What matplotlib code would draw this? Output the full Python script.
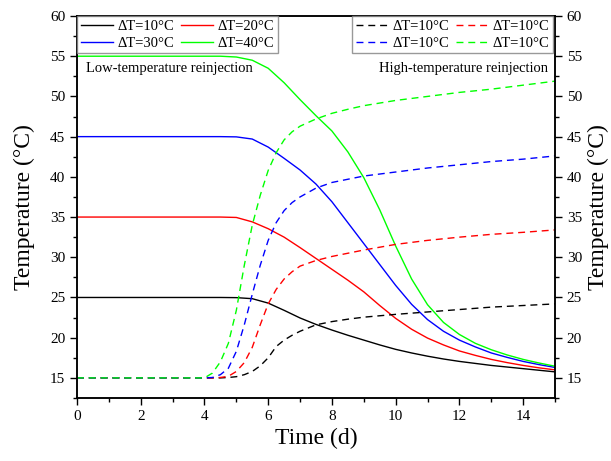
import matplotlib
matplotlib.use("Agg")
import matplotlib.pyplot as plt
from matplotlib.ticker import MultipleLocator

plt.rcParams['font.family'] = ['Liberation Serif', 'DejaVu Serif']

# ---- data ----
t_low = [0, 1, 2, 3, 4, 4.5, 5, 5.5, 6, 6.5, 7, 7.5, 8, 8.5, 9, 9.5, 10, 10.5,
         11, 11.5, 12, 12.5, 13, 13.5, 14, 14.5, 15]
low_10 = [25, 25, 25, 25, 25, 25.0, 24.98, 24.85, 24.3, 23.4, 22.45, 21.65, 20.95,
          20.3, 19.7, 19.1, 18.55, 18.1, 17.7, 17.35, 17.05, 16.8, 16.55, 16.35,
          16.15, 15.95, 15.75]
low_20 = [35, 35, 35, 35, 35, 35.0, 34.95, 34.4, 33.55, 32.5, 31.2, 29.85, 28.5,
          27.15, 25.7, 24.0, 22.4, 21.05, 19.95, 19.1, 18.35, 17.8, 17.3, 16.9,
          16.55, 16.25, 16.0]
low_30 = [45, 45, 45, 45, 45, 45.0, 44.97, 44.7, 43.7, 42.3, 40.85, 39.1, 36.9,
          34.3, 31.7, 29.1, 26.5, 24.15, 22.25, 20.8, 19.7, 18.85, 18.1, 17.55,
          17.05, 16.65, 16.3]
low_40 = [55, 55, 55, 55, 55, 55.0, 54.9, 54.5, 53.5, 51.7, 49.6, 47.6, 45.7,
          43.1, 39.9, 35.9, 31.4, 27.3, 24.1, 21.9, 20.4, 19.3, 18.5, 17.85,
          17.3, 16.85, 16.45]

t_high = [0, 1, 2, 3, 4, 4.25, 4.5, 4.75, 5, 5.25, 5.5, 5.75, 6, 6.25, 6.5, 6.75,
          7, 7.5, 8, 8.5, 9, 10, 11, 12, 13, 14, 15]
high_10 = [15, 15, 15, 15, 15, 15.0, 15.0, 15.05, 15.15, 15.4, 15.8, 16.5, 17.5,
           18.9, 19.7, 20.3, 20.8, 21.6, 22.0, 22.3, 22.55, 22.9, 23.2, 23.5,
           23.8, 24.0, 24.2]
high_20 = [15, 15, 15, 15, 15, 15.0, 15.05, 15.2, 15.8, 16.9, 18.8, 21.6, 24.2,
           26.0, 27.3, 28.2, 28.9, 29.6, 30.1, 30.5, 30.9, 31.6, 32.1, 32.5,
           32.85, 33.1, 33.4]
high_30 = [15, 15, 15, 15, 15, 15.05, 15.4, 16.2, 18.3, 21.6, 25.4, 29.0, 32.1,
           34.3, 35.8, 36.8, 37.5, 38.6, 39.3, 39.7, 40.1, 40.6, 41.1, 41.5,
           41.9, 42.2, 42.6]
high_40 = [15, 15, 15, 15, 15, 15.6, 17.0, 19.3, 23.4, 29.0, 34.0, 37.7, 40.8,
           43.0, 44.6, 45.6, 46.3, 47.2, 47.9, 48.4, 48.85, 49.5, 50.0, 50.5,
           50.9, 51.4, 51.9]

low_labels = ['ΔT=10°C', 'ΔT=20°C', 'ΔT=30°C', 'ΔT=40°C']
high_labels = ['ΔT=10°C', 'ΔT=10°C', 'ΔT=10°C', 'ΔT=10°C']
colors = ['#000000', '#ff0000', '#0000ff', '#00ff00']

fig = plt.figure(figsize=(6.11, 4.61), dpi=100)
ax = fig.add_axes([77/611, (461-398)/461, 478/611, 382/461])

low_series = [low_10, low_20, low_30, low_40]
high_series = [high_10, high_20, high_30, high_40]

lh = []
for y, c, lab in zip(low_series, colors, low_labels):
    l, = ax.plot(t_low, y, color=c, lw=1.0, label=lab)
    lh.append(l)
hh = []
for y, c, lab in zip(high_series, colors, high_labels):
    l, = ax.plot(t_high, y, color=c, lw=1.0, ls=(0, (5, 3.5)), label=lab)
    hh.append(l)

ax.set_xlim(0, 15)
ax.set_ylim(12.5, 60)
ax.xaxis.set_major_locator(MultipleLocator(2))
ax.xaxis.set_minor_locator(MultipleLocator(1))
ax.yaxis.set_major_locator(MultipleLocator(5))
ax.yaxis.set_minor_locator(MultipleLocator(2.5))
ax.tick_params(which='both', direction='out', top=False, right=False,
               labelsize=11, width=1.0)
ax.tick_params(which='major', length=5)
ax.tick_params(which='minor', length=3)
for s in ax.spines.values():
    s.set_linewidth(1.1)

ax2 = ax.twinx()
ax2.set_ylim(12.5, 60)
ax2.yaxis.set_major_locator(MultipleLocator(5))
ax2.yaxis.set_minor_locator(MultipleLocator(2.5))
ax2.tick_params(which='both', direction='out', labelsize=11, width=1.0)
ax2.tick_params(which='major', length=5)
ax2.tick_params(which='minor', length=3)
for s in ax2.spines.values():
    s.set_linewidth(1.1)

ax.set_xlabel('Time (d)', fontsize=17, labelpad=4)
ax.set_ylabel('Temperature (°C)', fontsize=17, labelpad=11)
ax2.set_ylabel('Temperature (°C)', fontsize=17, labelpad=4)

# order so that rows read (10, 20) / (30, 40) with ncol=2
order = [0, 2, 1, 3]
leg_kw = dict(ncol=2, fontsize=10.5, frameon=True, fancybox=False,
              edgecolor='#808080', borderaxespad=0.0, handlelength=2.2,
              handletextpad=0.3, columnspacing=0.5, labelspacing=0.25,
              borderpad=0.25)
leg1 = ax2.legend(handles=[lh[i] for i in order], loc='upper left', **leg_kw)
leg1.get_frame().set_linewidth(1.0)
ax2.add_artist(leg1)
leg2 = ax2.legend(handles=[hh[i] for i in order], loc='upper right',
                  bbox_to_anchor=(0.996, 1.0), **leg_kw)
leg2.get_frame().set_linewidth(1.0)

ax.text(0.019, 0.862, 'Low-temperature reinjection', transform=ax.transAxes,
        fontsize=10.5, ha='left', va='center')
ax.text(0.985, 0.862, 'High-temperature reinjection', transform=ax.transAxes,
        fontsize=10.5, ha='right', va='center')

fig.savefig('out.png', dpi=100)
